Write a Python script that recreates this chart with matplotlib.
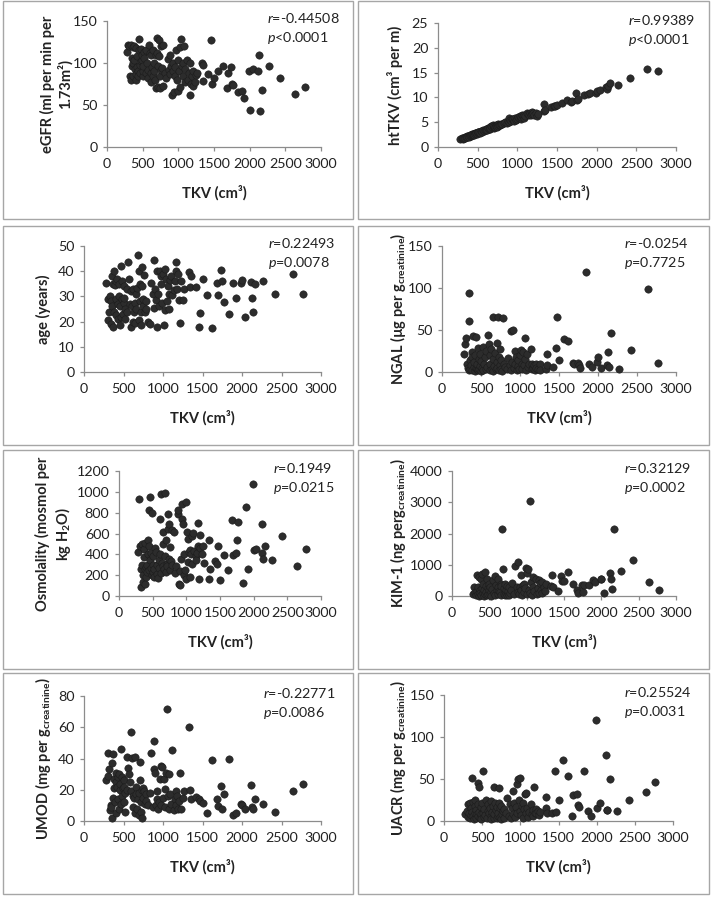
import matplotlib
matplotlib.use('Agg')
import matplotlib.pyplot as plt
from matplotlib.patches import Rectangle

plt.rcParams['font.family'] = ['Lato', 'DejaVu Sans']
plt.rcParams['mathtext.fontset'] = 'custom'
plt.rcParams['mathtext.rm'] = 'Lato'
plt.rcParams['mathtext.it'] = 'Lato:italic'
plt.rcParams['mathtext.bf'] = 'Lato:bold'

# DATA
# TKV (cm3) per patient: dense group then the sparse high-volume group
tkv = [280, 300, 310, 320, 330, 340, 345, 350, 360, 365,
       370, 380, 385, 390, 400, 405, 410, 420, 425, 430,
       440, 445, 450, 460, 465, 470, 480, 485, 490, 500,
       505, 510, 520, 525, 540, 550, 560, 570, 580, 590,
       600, 610, 615, 620, 630, 640, 650, 655, 660, 670,
       680, 690, 700, 705, 710, 720, 725, 730, 740, 745,
       750, 760, 770, 780, 790, 810, 830, 850, 870, 880,
       890, 900, 910, 920, 930, 940, 950, 960, 970, 980,
       990, 1000, 1010, 1020, 1030, 1040, 1050, 1060, 1070, 1080,
       1090, 1100, 1120, 1140, 1150, 1160, 1170, 1180, 1190, 1200,
       1210, 1230, 1250, 1260,
       1330, 1340, 1350, 1420, 1460, 1470, 1500, 1560, 1620, 1680,
       1690, 1740, 1750, 1770, 1840, 1890, 1920, 1990, 2000, 2040,
       2120, 2130, 2140, 2170, 2270, 2420, 2640, 2770]

egfr = [113, 122, 120, 85, 80, 122, 106, 97, 119, 84,
        100, 120, 104, 93, 87, 80, 118, 108, 95, 90,
        85, 115, 128, 98, 88, 102, 117, 103, 110, 84,
        90, 97, 113, 106, 88, 116, 100, 82, 92, 121,
        112, 77, 88, 109, 95, 84, 115, 100, 90, 80,
        110, 70, 130, 112, 97, 72, 127, 108, 85, 70,
        92, 120, 94, 73, 122, 88, 82, 105, 92, 87,
        110, 97, 62, 90, 100, 65, 85, 95, 115, 80,
        67, 103, 90, 72, 119, 128, 97, 85, 100, 120,
        93, 77, 104, 80, 88, 62, 100, 75, 85, 73,
        90, 77, 86, 88,
        100, 98, 78, 87, 127, 75, 82, 90, 96, 70,
        88, 95, 75, 74, 66, 67, 58, 91, 44, 93,
        90, 109, 43, 68, 96, 82, 63, 72]

httkv = [1.6, 1.8, 1.7, 1.9, 1.8, 2.0, 1.9, 2.1, 2.0, 2.2,
         2.1, 2.2, 2.3, 2.1, 2.4, 2.3, 2.2, 2.5, 2.4, 2.6,
         2.5, 2.6, 2.7, 2.5, 2.8, 2.7, 2.9, 2.8, 2.7, 3.0,
         2.9, 3.0, 3.1, 2.9, 3.2, 3.3, 3.1, 3.4, 3.3, 3.5,
         3.6, 3.4, 3.7, 3.5, 3.8, 3.6, 4.0, 3.7, 3.9, 4.2,
         4.0, 4.4, 3.9, 4.1, 4.3, 4.0, 4.5, 4.2, 4.4, 4.1,
         4.6, 4.3, 4.5, 4.4, 4.6, 4.7, 4.8, 5.0, 4.9, 5.3,
         5.8, 5.1, 5.5, 5.2, 5.6, 5.4, 5.7, 5.3, 5.8, 5.5,
         5.9, 5.6, 6.1, 5.8, 6.3, 5.7, 6.0, 6.4, 6.2, 5.9,
         6.5, 6.3, 6.9, 6.6, 6.4, 6.8, 6.5, 7.0, 6.6, 6.9,
         6.5, 6.8, 6.3, 6.6,
         8.6, 7.3, 7.4, 8.0, 8.2, 8.3, 8.4, 8.8, 9.4, 9.1,
         9.2, 10.8, 9.5, 9.7, 10.4, 10.7, 10.9, 10.9, 11.2, 11.5,
         12.0, 11.6, 12.2, 12.9, 12.4, 13.9, 15.8, 15.3]

age = [35.5, 20.5, 29, 24, 30, 28, 19, 38, 26, 35,
       18, 40, 24, 34.5, 22.5, 29, 36, 37, 21, 27,
       35, 30, 18.5, 26, 42, 22, 36, 29, 23, 27.5,
       34, 29.5, 25, 21, 33, 24, 43.5, 37, 27, 18,
       32, 26, 20, 33, 24, 27.5, 19.5, 31, 25, 33.5,
       46.5, 40, 20.5, 35, 28, 24, 18.5, 41.5, 34, 26,
       29, 38.5, 24, 25, 28, 20, 19, 35.5, 31, 44.5,
       25.5, 33, 28.5, 40, 18, 31, 26, 40, 38, 35,
       27.5, 39, 18.5, 24.5, 41, 37, 28, 34, 25, 31,
       36.5, 38, 30.5, 32.5, 36, 43.5, 40, 33, 39, 28.5,
       19.5, 36, 28.5, 33,
       39.8, 33.8, 38.2, 33.6, 17.9, 23.6, 37.1, 30.5, 17.6, 35.5,
       30.5, 40.3, 36.2, 27.9, 23.2, 35.5, 29.2, 35.5, 36.5, 21.8,
       35.8, 29.2, 23.9, 35.1, 36.2, 30.9, 38.7, 30.9]

ngal = [22, 33, 40, 10, 5, 2, 94, 60.5, 14, 3,
        8, 24, 18, 2, 43, 6, 12, 1, 20, 5,
        42, 3, 10, 28, 2, 16, 4, 22, 7, 1,
        13, 5, 30, 2, 9, 18, 3, 25, 6, 44,
        33, 2, 20, 10, 27, 4, 15, 1, 66, 7,
        23, 3, 12, 34, 5, 65, 18, 2, 27, 8,
        14, 4, 1, 64.5, 10, 6, 3, 17, 8, 2,
        48.5, 12, 50, 5, 25, 9, 18, 2, 7, 14,
        4, 20, 26, 10, 3, 24, 8, 40, 15, 2,
        22, 6, 9, 27, 3, 10, 5, 8, 2, 9,
        5, 3, 9, 2,
        3, 22, 8, 6, 29, 66, 14, 39, 37, 11,
        10, 11, 8, 5, 119, 9, 6, 12, 18, 5,
        8, 24, 6, 46, 4, 26, 99, 11]

osmo = [420, 927, 480, 87, 260, 300, 500, 200, 135, 450,
        370, 260, 119, 510, 180, 280, 300, 230, 400, 540,
        825, 250, 480, 953, 350, 270, 410, 200, 793, 230,
        300, 380, 260, 180, 460, 420, 300, 210, 170, 350,
        270, 735, 400, 220, 975, 320, 290, 616, 500, 260,
        380, 991, 230, 540, 310, 290, 640, 786, 690, 360,
        250, 470, 340, 632, 300, 616, 220, 290, 786, 825,
        119, 240, 109, 360, 882, 738, 690, 400, 200, 250,
        160, 905, 616, 552, 330, 420, 183, 440, 400, 580,
        310, 606, 430, 380, 350, 410, 480, 697, 167, 584,
        465, 400, 480, 320,
        536, 167, 257, 334, 311, 478, 151, 391, 254, 728,
        398, 414, 542, 712, 125, 857, 263, 1075, 440, 449,
        690, 414, 359, 478, 343, 574, 286, 449]

kim1 = [50, 280, 120, 20, 150, 680, 60, 300, 10, 620,
        200, 90, 560, 30, 250, 700, 100, 400, 15, 180,
        760, 50, 330, 120, 560, 20, 250, 80, 400, 180,
        60, 300, 140, 10, 230, 500, 90, 640, 30, 350,
        200, 560, 50, 280, 150, 120, 400, 20, 310, 2134,
        850, 60, 260, 30, 380, 110, 200, 20, 330, 90,
        160, 40, 280, 100, 200, 420, 80, 950, 300, 130,
        1100, 50, 280, 180, 660, 20, 350, 120, 400, 250,
        900, 60, 750, 850, 200, 3030, 100, 450, 30, 600,
        300, 150, 550, 80, 250, 500, 100, 420, 200, 460,
        90, 300, 150, 400,
        310, 662, 300, 160, 630, 470, 480, 768, 395, 203,
        96, 352, 128, 340, 341, 502, 450, 555, 555, 96,
        736, 555, 235, 2134, 800, 1142, 448, 181]

umod = [26, 29, 43.5, 33, 7, 10, 9, 2, 37, 43,
        15, 27, 21, 12, 25, 31, 5, 22, 28, 14,
        30, 8, 20, 24, 46, 11, 16, 28, 21, 12,
        26, 22, 18, 6, 41, 20, 34, 30, 25, 57,
        19, 40.5, 16, 9, 15, 5, 41, 22, 17, 8,
        14, 18, 4, 37.5, 26, 12, 6, 20, 2, 15,
        21, 19, 11, 17, 13, 10, 18, 43.5, 9, 33,
        51, 31, 10, 14, 19.5, 8, 12, 27, 35, 10,
        34.5, 15, 27, 9, 20.5, 31, 71.5, 16, 8, 30,
        17, 11, 45.5, 7, 14, 19, 10, 16, 8, 13,
        30.5, 8, 15, 19,
        60, 20, 14, 15.4, 14.3, 12.6, 11.7, 5.3, 38.8, 14.3,
        9.4, 22.4, 7.9, 17.5, 39.9, 3.6, 5.3, 10.7, 10, 7.9,
        22.8, 9, 8, 13.9, 10.7, 5.8, 19, 23.9]

uacr = [8, 12, 20, 5, 10, 3, 22, 7, 15, 11,
        51.5, 6, 23, 2, 18, 9, 25, 4, 13, 8,
        20, 6, 45, 11, 40, 3, 17, 8, 2, 22,
        59, 10, 5, 14, 7, 25, 3, 12, 20, 9,
        16, 6, 24, 2, 11, 18, 4, 40, 8, 22,
        13, 3, 17, 6, 10, 21, 39, 5, 15, 2,
        18, 8, 12, 4, 14, 9, 27, 6, 20, 3,
        15, 36, 8, 22, 5, 17, 44, 10, 50, 25,
        12, 51, 7, 18, 3, 22, 14, 32, 9, 33,
        16, 5, 11, 20, 8, 13, 6, 41, 10, 14,
        9, 12, 7, 11,
        28.6, 15.5, 10, 9.9, 60, 10.7, 24.7, 73, 53, 6,
        30.6, 31.8, 18.7, 16.7, 59, 11.5, 5.6, 120, 15.5, 21.5,
        78, 13.5, 12.7, 50, 11.5, 25.5, 34.6, 46.6]

ylabels = ['eGFR (ml per min per\n1.73m²)',
           'htTKV (cm³ per m)',
           'age (years)',
           r'NGAL (µg per g$_{\mathbf{creatinine}}$)',
           'Osmolality (mosmol per\n' + r'kg H$_{\mathbf{2}}$O)',
           r'KIM-1 (ng perg$_{\mathbf{creatinine}}$)',
           r'UMOD (mg per g$_{\mathbf{creatinine}}$)',
           r'UACR (mg per g$_{\mathbf{creatinine}}$)']
r_texts = ['-0.44508', '0.99389', '0.22493', '-0.0254',
           '0.1949', '0.32129', '-0.22771', '0.25524']
p_texts = ['<0.0001', '<0.0001', '=0.0078', '=0.7725',
           '=0.0215', '=0.0002', '=0.0086', '=0.0031']
ymaxes = [150, 25, 50, 150, 1200, 4000, 80, 150]
ysteps = [50, 5, 10, 50, 200, 1000, 20, 50]
series = [egfr, httkv, age, ngal, osmo, kim1, umod, uacr]

# LAYOUT (pixels, from top-left of a 712x897 figure)
W, H = 712, 897
# axes: left, right, top, bottom
axes_px = [(107, 321, 21, 147), (438, 676, 23, 147),
           (84, 321, 246, 372), (442, 676, 246, 372),
           (119, 321, 471, 596), (452, 676, 471, 596),
           (84, 321, 696, 821), (444, 673, 695, 821)]
# panel boxes: left, right, top, bottom
boxes_px = [(3, 353, 1, 219), (358, 709, 1, 219),
            (3, 353, 226, 445), (358, 709, 226, 445),
            (3, 353, 450, 669), (358, 709, 450, 669),
            (3, 353, 673, 894), (358, 709, 673, 894)]
ylab_x = [56, 395, 43, 398, 54, 398, 43, 398]
rtext_x = [267, 628, 268, 624, 273, 624, 263, 624]

fig = plt.figure(figsize=(W / 100, H / 100), dpi=100)
fig.patch.set_facecolor('white')

for i in range(8):
    bl, br, bt, bb = boxes_px[i]
    fig.patches.append(Rectangle((bl / W, 1 - bb / H), (br - bl) / W, (bb - bt) / H,
                                 transform=fig.transFigure, fill=False,
                                 edgecolor='#a6a6a6', linewidth=1.0))

    l, r, t, b = axes_px[i]
    ax = fig.add_axes([l / W, 1 - b / H, (r - l) / W, (b - t) / H])
    ax.scatter(tkv, series[i], s=28, color='#2c2c2c', edgecolors='#1c1c1c',
               linewidths=0.4, clip_on=False, zorder=3)
    ax.set_xlim(0, 3000)
    ax.set_ylim(0, ymaxes[i])
    ax.set_xticks(range(0, 3001, 500))
    ax.set_yticks(range(0, ymaxes[i] + 1, ysteps[i]))
    for side in ['top', 'right']:
        ax.spines[side].set_visible(False)
    for side in ['left', 'bottom']:
        ax.spines[side].set_color('#8c8c8c')
        ax.spines[side].set_linewidth(0.9)
    ax.tick_params(axis='x', direction='out', length=3, width=0.9, color='#8c8c8c',
                   labelsize=10.3, pad=5, labelcolor='#222222')
    ax.tick_params(axis='y', direction='out', length=3, width=0.9, color='#8c8c8c',
                   labelsize=10.3, pad=4, labelcolor='#222222')
    ax.set_facecolor('none')

    # axis titles
    fig.text((l + r) / 2 / W, 1 - (b + 46) / H, 'TKV (cm³)', ha='center', va='center',
             fontsize=10.5, fontweight='bold', color='#222222')
    fig.text(ylab_x[i] / W, 1 - (t + b) / 2 / H, ylabels[i], rotation=90,
             ha='center', va='center', multialignment='center',
             fontsize=10.5, fontweight='bold', color='#222222', linespacing=1.2)

    # correlation stats
    fig.text(rtext_x[i] / W, 1 - (t - 3) / H, r'$\mathit{r}$=' + r_texts[i],
             ha='left', va='center', fontsize=10.3, color='#222222')
    fig.text(rtext_x[i] / W, 1 - (t + 17) / H, r'$\mathit{p}$' + p_texts[i],
             ha='left', va='center', fontsize=10.3, color='#222222')

plt.savefig('out.png', dpi=100)
